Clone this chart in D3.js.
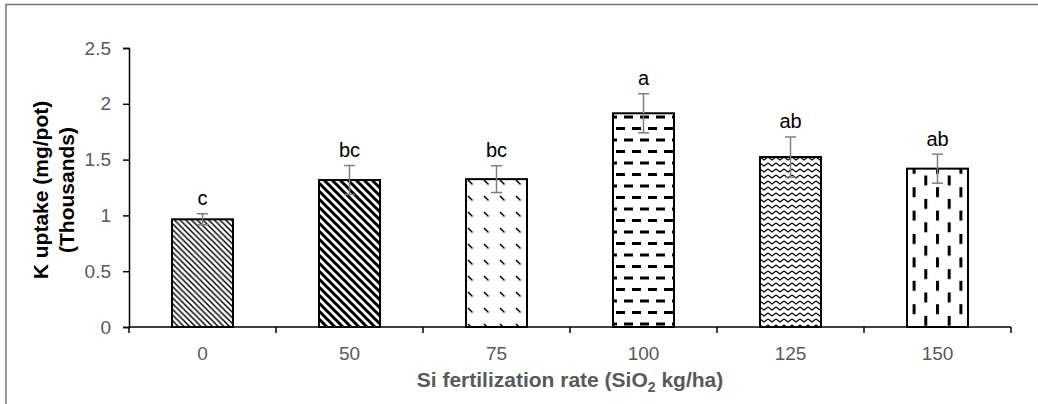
<!DOCTYPE html>
<html>
<head>
<meta charset="utf-8">
<script src="https://cdn.jsdelivr.net/npm/d3@7/dist/d3.min.js"></script>
<style>
  body { margin: 0; background: #fff; }
  text { font-family: "Liberation Sans", Arial, sans-serif; }
</style>
</head>
<body>
<svg width="1038" height="404"></svg>
<script>
const categories = ["0", "50", "75", "100", "125", "150"];
const uptake = [0.965, 1.317, 1.325, 1.915, 1.523, 1.419];
const stdErr = [0.05, 0.13, 0.12, 0.175, 0.18, 0.13];
const letters = ["c", "bc", "bc", "a", "ab", "ab"];
const yTicks = [0, 0.5, 1, 1.5, 2, 2.5];
const patterns = ["fine", "wide", "dashdiag", "hdash", "zigzag", "vdash"];

const svg = d3.select("svg");

// outer chart frame (only left/top visible)
svg.append("rect")
  .attr("x", 6).attr("y", 4.5)
  .attr("width", 1100).attr("height", 500)
  .attr("fill", "none")
  .attr("stroke", "#767676")
  .attr("stroke-width", 1.5);

const x = d3.scaleBand()
  .domain(categories)
  .range([129, 1011])
  .paddingInner(0.585)
  .paddingOuter(0.2925);

const y = d3.scaleLinear()
  .domain([0, 2.5])
  .range([327, 48]);

// fill patterns
const defs = svg.append("defs");

function pat(id, w, h) {
  return defs.append("pattern")
    .attr("id", id)
    .attr("patternUnits", "userSpaceOnUse")
    .attr("width", w).attr("height", h);
}

pat("fine", 5.7, 5.7).append("path")
  .attr("d", "M0,0L5.7,5.7M-1,4.7L1,6.7M4.7,-1L6.7,1")
  .attr("stroke", "#000").attr("stroke-width", 1.5);

pat("wide", 8, 8).append("path")
  .attr("d", "M0,0L8,8M-2,6L2,10M6,-2L10,2")
  .attr("stroke", "#000").attr("stroke-width", 3);

pat("dashdiag", 16, 16).append("path")
  .attr("d", "M4,4L8.5,8.5")
  .attr("stroke", "#000").attr("stroke-width", 1.6);

pat("hdash", 16, 23).append("path")
  .attr("d", "M0,2H9M8,13.5H17M-8,13.5H1")
  .attr("stroke", "#000").attr("stroke-width", 3);

pat("zigzag", 8, 6).append("path")
  .attr("d", "M0,1L4,4L8,1")
  .attr("fill", "none")
  .attr("stroke", "#000").attr("stroke-width", 1.2);

pat("vdash", 23.4, 23.4).append("path")
  .attr("d", "M1.5,0V10M13.2,11.7V21.7")
  .attr("stroke", "#000").attr("stroke-width", 3);

// bars
svg.selectAll(".bar")
  .data(categories)
  .enter().append("rect")
  .attr("class", "bar")
  .attr("x", d => x(d))
  .attr("width", x.bandwidth())
  .attr("y", (d, i) => y(uptake[i]))
  .attr("height", (d, i) => y(0) - y(uptake[i]))
  .attr("fill", "#fff");

svg.selectAll(".barpat")
  .data(categories)
  .enter().append("rect")
  .attr("class", "barpat")
  .attr("x", d => x(d))
  .attr("width", x.bandwidth())
  .attr("y", (d, i) => y(uptake[i]))
  .attr("height", (d, i) => y(0) - y(uptake[i]))
  .attr("fill", (d, i) => "url(#" + patterns[i] + ")")
  .attr("stroke", "#000")
  .attr("stroke-width", 2);

// error bars
const err = svg.selectAll(".err")
  .data(categories)
  .enter().append("g")
  .attr("class", "err")
  .attr("stroke", "#7f7f7f")
  .attr("stroke-width", 1.5);

const cx = d => x(d) + x.bandwidth() / 2;
err.append("line")
  .attr("x1", cx).attr("x2", cx)
  .attr("y1", (d, i) => y(uptake[i] + stdErr[i]))
  .attr("y2", (d, i) => y(uptake[i] - stdErr[i]));
err.append("line")
  .attr("x1", d => cx(d) - 5.5).attr("x2", d => cx(d) + 5.5)
  .attr("y1", (d, i) => y(uptake[i] + stdErr[i]))
  .attr("y2", (d, i) => y(uptake[i] + stdErr[i]));
err.append("line")
  .attr("x1", d => cx(d) - 5.5).attr("x2", d => cx(d) + 5.5)
  .attr("y1", (d, i) => y(uptake[i] - stdErr[i]))
  .attr("y2", (d, i) => y(uptake[i] - stdErr[i]));

// significance letters
svg.selectAll(".letter")
  .data(categories)
  .enter().append("text")
  .attr("class", "letter")
  .attr("x", cx)
  .attr("y", (d, i) => y(uptake[i] + stdErr[i]) - 8.5)
  .attr("text-anchor", "middle")
  .attr("font-size", 20)
  .attr("fill", "#000")
  .text((d, i) => letters[i]);

// y axis
const yAxis = svg.append("g")
  .attr("transform", "translate(129,0)")
  .call(d3.axisLeft(y).tickValues(yTicks).tickSize(6).tickPadding(12).tickFormat(d3.format("")));
yAxis.select(".domain").attr("stroke", "#000").attr("stroke-width", 1.5);
yAxis.selectAll(".tick line").attr("stroke", "#000").attr("stroke-width", 1.5);
yAxis.selectAll(".tick text")
  .attr("font-size", 19)
  .attr("fill", "#595959")
  .attr("font-family", "Liberation Sans, Arial, sans-serif");

// x axis
const x0 = x.range()[0];
const bounds = d3.range(categories.length + 1).map(i => x0 + i * x.step());
svg.append("line")
  .attr("x1", x.range()[0]).attr("x2", x.range()[1])
  .attr("y1", y(0)).attr("y2", y(0))
  .attr("stroke", "#000").attr("stroke-width", 1.5);
svg.selectAll(".xtick")
  .data(bounds)
  .enter().append("line")
  .attr("class", "xtick")
  .attr("x1", d => d).attr("x2", d => d)
  .attr("y1", y(0)).attr("y2", y(0) + 6)
  .attr("stroke", "#000").attr("stroke-width", 1.5);
svg.selectAll(".xlabel")
  .data(categories)
  .enter().append("text")
  .attr("class", "xlabel")
  .attr("x", cx)
  .attr("y", 360)
  .attr("text-anchor", "middle")
  .attr("font-size", 19)
  .attr("fill", "#595959")
  .text(d => d);

// axis titles
const xt = svg.append("text")
  .attr("x", (x.range()[0] + x.range()[1]) / 2)
  .attr("y", 387)
  .attr("text-anchor", "middle")
  .attr("font-size", 21)
  .attr("font-weight", "bold")
  .attr("fill", "#595959");
xt.append("tspan").text("Si fertilization rate (SiO");
xt.append("tspan").attr("font-size", 14).attr("dy", 5).text("2");
xt.append("tspan").attr("dy", -5).text(" kg/ha)");

const yt = svg.append("text")
  .attr("transform", "translate(48,190) rotate(-90)")
  .attr("text-anchor", "middle")
  .attr("font-size", 21)
  .attr("font-weight", "bold")
  .attr("fill", "#000");
yt.append("tspan").attr("x", 0).attr("y", 0).text("K uptake (mg/pot)");
yt.append("tspan").attr("x", 0).attr("y", 26).text("(Thousands)");
</script>
</body>
</html>
